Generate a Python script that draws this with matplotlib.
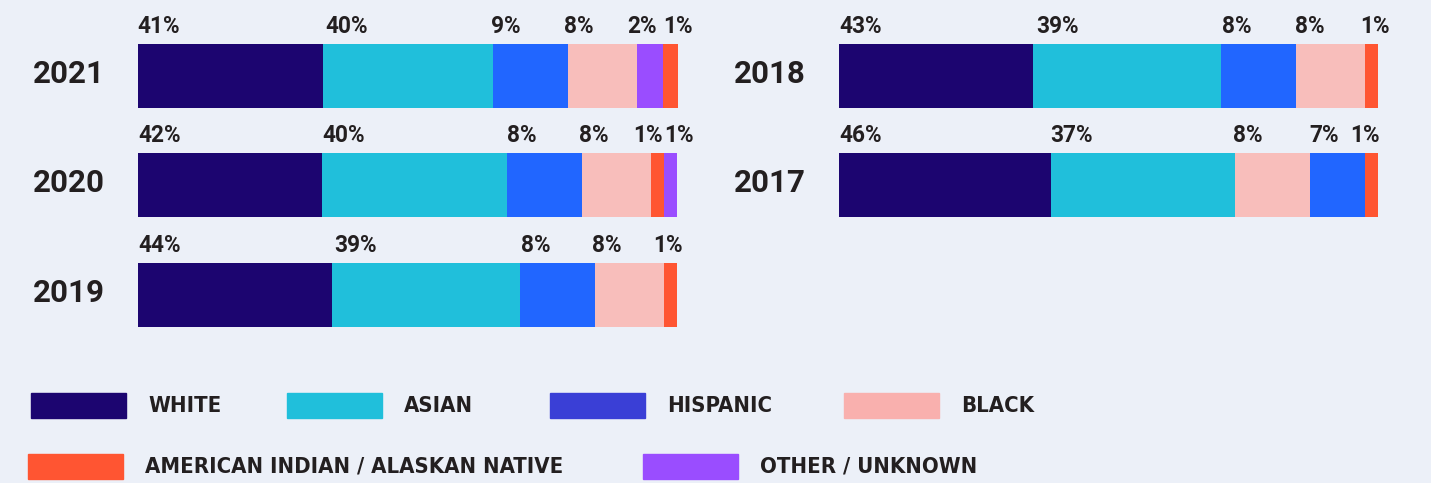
import matplotlib
matplotlib.use("Agg")
import matplotlib.pyplot as plt
from matplotlib import font_manager
from matplotlib.patches import Rectangle
from matplotlib.transforms import ScaledTranslation

W, H = 1431, 483
BG = "#ecf0f8"
INK = "#231f20"

# bar colours, and the slightly different swatches used in the legend
bar_colors = {"WHITE": "#1c0570", "ASIAN": "#20bfdb", "HISPANIC": "#2166ff",
              "BLACK": "#f8bebb", "AIAN": "#ff5532", "OTHER": "#9a4dff"}
legend_colors = {"WHITE": "#1c0570", "ASIAN": "#20bfdb", "HISPANIC": "#3a3fd6",
                 "BLACK": "#f9b0ae", "AIAN": "#ff5532", "OTHER": "#9a4dff"}

# segment sizes as drawn (bar-length units), with the printed percentages
grp_2021 = ["WHITE", "ASIAN", "HISPANIC", "BLACK", "OTHER", "AIAN"]
seg_2021 = [184.6, 169.9, 75.7, 68.9, 26.2, 15.1]
pct_2021 = ["41%", "40%", "9%", "8%", "2%", "1%"]

grp_2020 = ["WHITE", "ASIAN", "HISPANIC", "BLACK", "AIAN", "OTHER"]
seg_2020 = [184.4, 184.9, 74.8, 68.8, 12.8, 13.3]
pct_2020 = ["42%", "40%", "8%", "8%", "1%", "1%"]

grp_2019 = ["WHITE", "ASIAN", "HISPANIC", "BLACK", "AIAN"]
seg_2019 = [193.6, 188.1, 75.7, 68.3, 13.3]
pct_2019 = ["44%", "39%", "8%", "8%", "1%"]

grp_2018 = ["WHITE", "ASIAN", "HISPANIC", "BLACK", "AIAN"]
seg_2018 = [194.1, 188.2, 75.0, 68.9, 13.1]
pct_2018 = ["43%", "39%", "8%", "8%", "1%"]

grp_2017 = ["WHITE", "ASIAN", "BLACK", "HISPANIC", "AIAN"]
seg_2017 = [212.3, 183.6, 74.9, 55.3, 13.1]
pct_2017 = ["46%", "37%", "8%", "7%", "1%"]

# label nudges (px) so small labels don't collide
nudge = {"2021": [-1, 3, -1, -4, -10, 0], "2020": [0, 0, 0, -3, -18, 0],
         "2019": [0, 3, 1, -3, -11], "2018": [0, 3, 1, -1, -5],
         "2017": [0, -1, -2, 0, -15]}

legend_names = ["WHITE", "ASIAN", "HISPANIC", "BLACK", "AIAN", "OTHER"]
legend_labels = ["WHITE", "ASIAN", "HISPANIC", "BLACK",
                 "AMERICAN INDIAN / ALASKAN NATIVE", "OTHER / UNKNOWN"]

# a condensed face for the legend if one is installed
legend_family, legend_stretch, legend_size = "DejaVu Sans", "normal", 14.3
try:
    font_manager.findfont(font_manager.FontProperties(family="Liberation Sans Narrow", weight="bold"),
                          fallback_to_default=False)
    legend_family, legend_size = "Liberation Sans Narrow", 19.5
except Exception:
    path = font_manager.findfont(font_manager.FontProperties(family="DejaVu Sans", weight="bold",
                                                             stretch="condensed"))
    if "Condensed" in path:
        legend_stretch, legend_size = "condensed", 15.8

plt.rcParams["font.family"] = ["Roboto", "DejaVu Sans"]

fig = plt.figure(figsize=(W / 100, H / 100), dpi=100, facecolor=BG)

PITCH = 109.25
BAR_H = 64 / PITCH


def make_axes(left_px, years, groups, segs, pcts):
    ax = fig.add_axes([left_px / W, 1 - 350 / H, 560 / W, 350 / H])
    ax.set_facecolor("none")
    ax.set_xlim(0, 560)
    ax.set_ylim((350 - 76) / PITCH, -76 / PITCH)
    for row, (yr, g, s, p) in enumerate(zip(years, groups, segs, pcts)):
        start = 0
        for i, (name, w, lab) in enumerate(zip(g, s, p)):
            ax.barh(row, w, left=start, height=BAR_H, color=bar_colors[name],
                    edgecolor="none")
            ax.text(start + nudge[yr][i], row - BAR_H / 2 - 0.1, lab,
                    ha="left", va="baseline", fontsize=16.3, fontweight="bold",
                    color=INK)
            start += w
    ax.set_yticks(range(len(years)))
    ax.set_yticklabels(years, fontsize=22.5, fontweight="bold", color=INK)
    ax.tick_params(axis="y", length=0, pad=24)
    shift = ScaledTranslation(0, 5 / 100, fig.dpi_scale_trans)
    for t in ax.get_yticklabels():
        t.set_transform(t.get_transform() + shift)
    ax.set_xticks([])
    for sp in ax.spines.values():
        sp.set_visible(False)
    return ax


make_axes(138, ["2021", "2020", "2019"],
          [grp_2021, grp_2020, grp_2019],
          [seg_2021, seg_2020, seg_2019],
          [pct_2021, pct_2020, pct_2019])
make_axes(839, ["2018", "2017"],
          [grp_2018, grp_2017],
          [seg_2018, seg_2017],
          [pct_2018, pct_2017])

# legend, drawn by hand in two rows
box_left = [31, 287, 550, 844, 28, 643]
box_top = [393, 393, 393, 393, 454, 454]
for name, lab, bx, by in zip(legend_names, legend_labels, box_left, box_top):
    fig.patches.append(Rectangle((bx / W, 1 - (by + 25) / H), 95 / W, 25 / H,
                                 transform=fig.transFigure, color=legend_colors[name]))
    fig.text((bx + 117) / W, 1 - (by + 12.5) / H, lab, ha="left", va="center",
             fontsize=legend_size, fontweight="bold", color=INK,
             family=legend_family, fontstretch=legend_stretch)

fig.savefig("out.png", dpi=100, facecolor=BG)
